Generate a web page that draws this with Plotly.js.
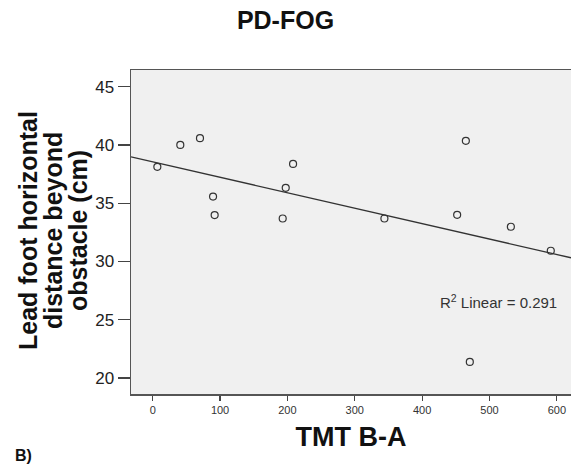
<!DOCTYPE html>
<html>
<head>
<meta charset="utf-8">
<script src="https://cdn.plot.ly/plotly-3.0.1.min.js"></script>
<style>html,body{margin:0;padding:0;background:#fff;}#chart{width:571px;height:468px;}</style>
</head>
<body>
<div id="chart"></div>
<script>
// Data (TMT B-A vs lead foot horizontal distance)
const tmtBA = [6.9, 41, 70.2, 89.6, 92, 193, 197.5, 208.4, 344, 452, 464.9, 470.8, 531.7, 591];
const leadFootDist = [38.12, 40.0, 40.58, 35.57, 33.98, 33.69, 36.32, 38.37, 33.69, 34.0, 40.35, 21.38, 32.98, 30.92];
const xTicks = [0, 100, 200, 300, 400, 500, 600];
const yTicks = [20, 25, 30, 35, 40, 45];
const yTitleLines = ['Lead foot horizontal', 'distance beyond', 'obstacle (cm)'];
const xRange = [-32.2, 621];
const yRange = [18.63, 46.43];

// Least-squares fit
const n = tmtBA.length;
const mx = tmtBA.reduce((a, b) => a + b, 0) / n;
const my = leadFootDist.reduce((a, b) => a + b, 0) / n;
let sxy = 0, sxx = 0, syy = 0;
for (let i = 0; i < n; i++) {
  sxy += (tmtBA[i] - mx) * (leadFootDist[i] - my);
  sxx += (tmtBA[i] - mx) ** 2;
  syy += (leadFootDist[i] - my) ** 2;
}
const slope = sxy / sxx;
const intercept = my - slope * mx;
const r2 = (sxy * sxy) / (sxx * syy);
const fitX = xRange.slice();
const fitY = fitX.map(x => intercept + slope * x);

const FONT = 'Liberation Sans, Arial, sans-serif';
const PLOT_L = 131, PLOT_W = 440, PLOT_T = 70, PLOT_H = 324;

const traces = [
  {
    x: fitX, y: fitY, mode: 'lines', type: 'scatter',
    line: {color: '#333333', width: 1.3},
    hoverinfo: 'skip', showlegend: false
  },
  {
    x: tmtBA, y: leadFootDist, mode: 'markers', type: 'scatter',
    marker: {symbol: 'circle-open', size: 7, color: '#333333', line: {width: 1.2, color: '#333333'}},
    showlegend: false
  }
];

const yTitleCenters = [28, 53, 78];
const yTitleAnnotations = yTitleLines.map((t, i) => ({
  x: (yTitleCenters[i] - PLOT_L) / PLOT_W, y: 0.5 + (PLOT_T + PLOT_H / 2 - 231) / PLOT_H,
  xref: 'paper', yref: 'paper', text: t, textangle: -90,
  showarrow: false, xanchor: 'center', yanchor: 'middle',
  font: {family: FONT, size: 25, weight: 'bold', color: '#111111'}
}));

const layout = {
  width: 571, height: 468,
  margin: {l: PLOT_L, r: 0, t: PLOT_T, b: 468 - PLOT_T - PLOT_H},
  paper_bgcolor: '#ffffff',
  plot_bgcolor: '#f0f0f0',
  font: {family: FONT, color: '#222222'},
  title: {
    text: 'PD-FOG',
    font: {family: FONT, size: 25, weight: 'bold', color: '#111111'},
    x: 0.5, xref: 'container', xanchor: 'center',
    y: 1 - 20 / 468, yref: 'container', yanchor: 'middle'
  },
  xaxis: {
    range: xRange,
    tickmode: 'array', tickvals: xTicks, ticktext: xTicks.map(String),
    ticks: 'outside', ticklen: 5, tickwidth: 1.2, tickcolor: '#444444',
    tickfont: {family: FONT, size: 11, color: '#333333'},
    showgrid: false, zeroline: false,
    showline: true, linecolor: '#555555', linewidth: 1.5, mirror: true,
    title: {text: 'TMT B-A', font: {family: FONT, size: 27, weight: 'bold', color: '#111111'}, standoff: 12},
    automargin: false
  },
  yaxis: {
    range: yRange,
    tickmode: 'array', tickvals: yTicks, ticktext: yTicks.map(String),
    ticks: 'outside', ticklen: 12, tickwidth: 1.2, tickcolor: '#444444',
    tickfont: {family: FONT, size: 17, color: '#222222'},
    showgrid: false, zeroline: false,
    showline: true, linecolor: '#555555', linewidth: 1.5, mirror: false,
    automargin: false
  },
  annotations: yTitleAnnotations.concat([
    {
      x: 514, y: 26.6, xref: 'x', yref: 'y',
      text: 'R<sup>2</sup> Linear = ' + r2.toFixed(3),
      showarrow: false, xanchor: 'center', yanchor: 'middle',
      font: {family: FONT, size: 15, color: '#333333'}
    },
    {
      x: (23 - PLOT_L) / PLOT_W, y: (PLOT_T + PLOT_H - 455) / PLOT_H, xref: 'paper', yref: 'paper',
      text: 'B)', showarrow: false, xanchor: 'center', yanchor: 'middle',
      font: {family: FONT, size: 16, weight: 'bold', color: '#111111'}
    }
  ])
};

Plotly.newPlot('chart', traces, layout, {displayModeBar: false, staticPlot: true});
</script>
</body>
</html>
